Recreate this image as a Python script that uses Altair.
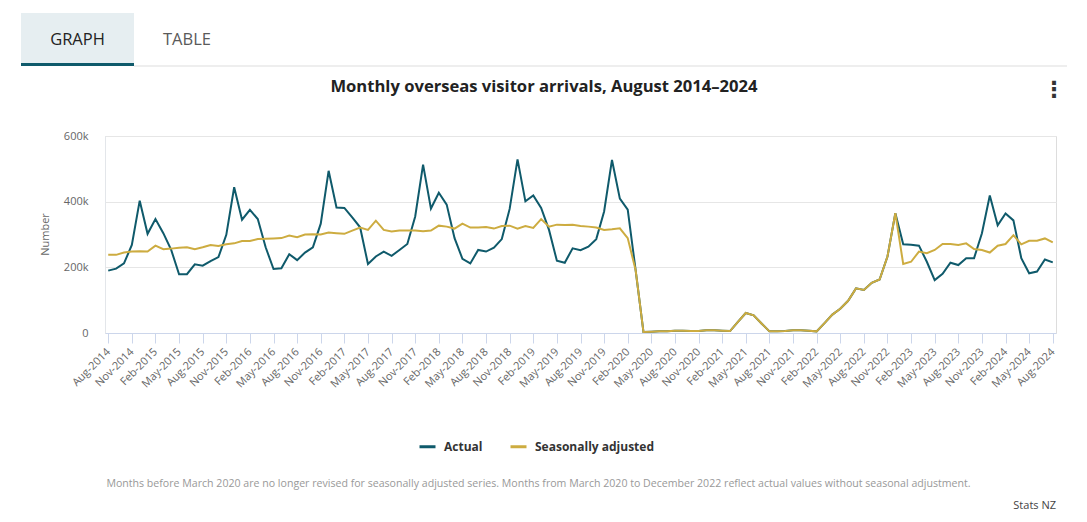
import altair as alt
import pandas as pd

MON = ["Jan", "Feb", "Mar", "Apr", "May", "Jun", "Jul", "Aug", "Sep", "Oct", "Nov", "Dec"]
months = []
for k in range(121):
    m = (7 + k) % 12
    y = 2014 + (7 + k) // 12
    months.append(f"{MON[m]}-{y}")
tick_months = months[::3]

# thousands, Aug-2014 .. Aug-2024
actual = [
    190, 196, 212, 268, 403, 302, 347, 304, 253, 179, 179, 209,
    205, 219, 231, 299, 444, 345, 375, 347, 261, 195, 197, 240,
    222, 245, 261, 333, 494, 382, 381, 352, 322, 210, 233, 248,
    235, 253, 271, 355, 513, 379, 427, 391, 289, 226, 212, 253,
    248, 260, 286, 378, 529, 401, 419, 381, 314, 220, 214, 258,
    252, 263, 286, 370, 527, 409, 376, 192, 3, 4, 5, 5,
    7, 7, 6, 6, 8, 8, 7, 6, 34, 61, 54, 29,
    5, 5, 6, 8, 8, 7, 5, 30, 56, 74, 98, 136,
    131, 153, 163, 233, 365, 270, 269, 266, 217, 161, 180, 214,
    207, 228, 228, 304, 419, 328, 364, 343, 228, 182, 187, 224,
    215,
]
seasonal = [
    238, 238, 245, 248, 249, 248, 266, 255, 257, 260, 261, 255,
    261, 268, 265, 270, 273, 280, 280, 286, 287, 288, 289, 297,
    292, 300, 301, 300, 306, 304, 302, 312, 321, 314, 342, 314,
    309, 312, 312, 312, 310, 312, 327, 324, 318, 333, 321, 321,
    323, 318, 326, 327, 318, 326, 320, 347, 324, 330, 329, 330,
    326, 324, 321, 314, 316, 319, 289, 192, 3, 4, 5, 5,
    7, 7, 6, 6, 8, 8, 7, 6, 34, 61, 54, 29,
    5, 5, 6, 8, 8, 7, 5, 30, 56, 74, 98, 136,
    131, 153, 163, 233, 365, 210, 217, 248, 243, 253, 271, 271,
    268, 273, 256, 253, 245, 266, 271, 298, 270, 281, 281, 288,
    276,
]
series_names = ["Actual", "Seasonally adjusted"]
series_colors = ["#0f5a6b", "#cdac40"]

rows = []
for name, vals in zip(series_names, [actual, seasonal]):
    for mth, v in zip(months, vals):
        rows.append({"month": mth, "series": name, "value": v * 1000})
df = pd.DataFrame(rows)

FONT = "Open Sans"

x_enc = alt.X(
    "month:O", sort=months, title=None,
    scale=alt.Scale(type="point", padding=0.41),
    axis=alt.Axis(values=tick_months, labelAngle=315, labelAlign="right",
                  labelBaseline="middle", labelPadding=7,
                  tickSize=10, tickColor="#ccd6eb", domainColor="#ccd6eb",
                  labelColor="#666666", labelFontSize=11, labelFont=FONT,
                  grid=False, labelOverlap=False),
)
y_enc = alt.Y(
    "value:Q", title="Number",
    scale=alt.Scale(domain=[0, 600000], nice=False),
    axis=alt.Axis(values=[0, 200000, 400000, 600000],
                  labelExpr="datum.value == 0 ? '0' : (datum.value / 1000) + 'k'",
                  ticks=False, labelPadding=17, labelColor="#666666",
                  labelFontSize=11, labelFont=FONT,
                  domainColor="#e3e6ea", gridColor="#e6e6e6",
                  titleX=-60, titleY=98, titleAngle=270, titleAlign="center",
                  titleBaseline="middle", titleFontWeight="normal",
                  titleFontSize=11, titleColor="#666666", titleFont=FONT),
)
color_enc = alt.Color(
    "series:N",
    scale=alt.Scale(domain=series_names, range=series_colors),
    legend=alt.Legend(title=None, orient="none", legendX=313, legendY=301,
                      direction="horizontal", symbolType="stroke",
                      symbolSize=256, symbolStrokeWidth=3, labelFont=FONT,
                      labelFontSize=12, labelFontWeight="bold",
                      labelColor="#333333", columnPadding=21, labelOffset=7,
                      padding=0),
)

line_actual = alt.Chart(df[df.series == "Actual"]).mark_line(strokeWidth=2).encode(
    x=x_enc, y=y_enc, color=color_enc)
line_sa = alt.Chart(df[df.series == "Seasonally adjusted"]).mark_line(strokeWidth=2).encode(
    x=x_enc, y=y_enc, color=color_enc)


def txt(s, x, y, size, color, weight="normal", align="center", font=FONT):
    return alt.Chart(pd.DataFrame({"t": [s]})).mark_text(
        fontSize=size, color=color, fontWeight=weight, align=align,
        baseline="middle", font=font).encode(
        text="t:N", x=alt.value(x), y=alt.value(y))


one = pd.DataFrame({"a": [0]})
tab_bg = alt.Chart(one).mark_rect(color="#e6eef1").encode(
    x=alt.value(21 - 105), x2=alt.value(134 - 105),
    y=alt.value(13 - 136), y2=alt.value(64 - 136))
tab_line = alt.Chart(one).mark_rule(color="#dddddd", strokeWidth=1).encode(
    x=alt.value(134 - 105), x2=alt.value(1067 - 105), y=alt.value(66 - 136))
tab_under = alt.Chart(one).mark_rule(color="#0f5a6b", strokeWidth=3).encode(
    x=alt.value(21 - 105), x2=alt.value(134 - 105), y=alt.value(64.5 - 136))

title = txt("Monthly overseas visitor arrivals, August 2014\u20132024",
            544 - 105, 87 - 136, 16.6, "#222222", "bold")
graph_t = txt("GRAPH", 77.5 - 105, 40 - 136, 16.5, "#222222")
table_t = txt("TABLE", 187 - 105, 40 - 136, 16.5, "#5a5a5a")
menu = txt("\u22ee", 1054 - 105, 90 - 136, 22, "#333333", "bold", font="DejaVu Sans")
note = txt("Months before March 2020 are no longer revised for seasonally adjusted series. "
           "Months from March 2020 to December 2022 reflect actual values without seasonal adjustment.",
           538.5 - 105, 484 - 136, 10.6, "#999999")
source = txt("Stats NZ", 1056 - 105, 506 - 136, 11, "#444444", align="right")

chart = alt.layer(
    tab_bg, tab_line, tab_under, graph_t, table_t, title, menu,
    line_actual, line_sa, note, source,
).properties(
    width=951, height=197,
    autosize=alt.AutoSizeParams(type="none"),
    padding={"left": 97, "top": 128, "right": 20, "bottom": 180},
).configure_view(stroke=None).configure(background="white")

chart.save("out.html", embed_options={"renderer": "svg", "actions": False})
